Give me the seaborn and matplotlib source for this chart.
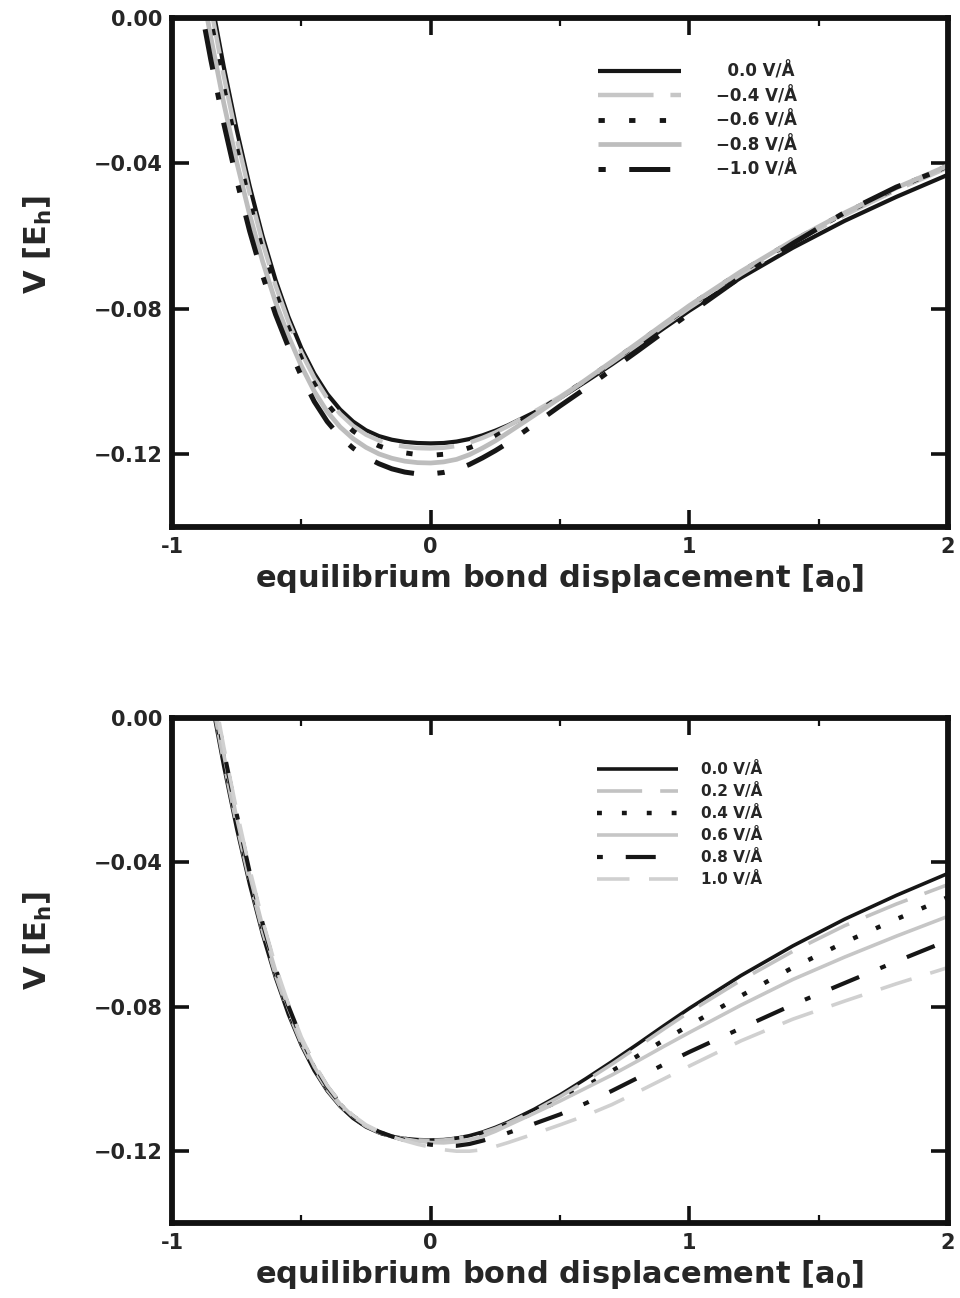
import numpy as np
import pandas as pd
import matplotlib
matplotlib.use("Agg")
import matplotlib.pyplot as plt
import seaborn as sns

# ---------------- data ----------------
x_disp = [-0.92, -0.88, -0.85, -0.80, -0.75, -0.70, -0.65, -0.60, -0.55, -0.50,
          -0.45, -0.40, -0.35, -0.30, -0.25, -0.20, -0.15, -0.10, -0.05, 0.00,
          0.05, 0.10, 0.15, 0.20, 0.25, 0.30, 0.40, 0.50, 0.60, 0.70,
          0.80, 0.90, 1.00, 1.20, 1.40, 1.60, 1.80, 2.00]

# 0.0 V/A (shared by both panels)
v_f00 = [0.0350, 0.0179, 0.0056, -0.0134, -0.0307, -0.0462, -0.0600, -0.0720, -0.0822, -0.0908,
         -0.0978, -0.1034, -0.1077, -0.1110, -0.1134, -0.1150, -0.1160, -0.1166, -0.1169, -0.1170,
         -0.1169, -0.1165, -0.1158, -0.1148, -0.1135, -0.1120, -0.1085, -0.1045, -0.1000, -0.0953,
         -0.0904, -0.0854, -0.0805, -0.0714, -0.0632, -0.0558, -0.0492, -0.0431]

# top panel: negative fields
v_fm04 = [0.0319, 0.0150, 0.0029, -0.0159, -0.0329, -0.0482, -0.0617, -0.0735, -0.0835, -0.0920,
          -0.0990, -0.1046, -0.1089, -0.1122, -0.1146, -0.1162, -0.1173, -0.1179, -0.1183, -0.1184,
          -0.1182, -0.1177, -0.1168, -0.1155, -0.1140, -0.1122, -0.1083, -0.1042, -0.0996, -0.0948,
          -0.0898, -0.0847, -0.0797, -0.0704, -0.0619, -0.0542, -0.0473, -0.0411]
v_fm06 = [0.0280, 0.0114, -0.0006, -0.0190, -0.0357, -0.0507, -0.0639, -0.0754, -0.0852, -0.0936,
          -0.1006, -0.1061, -0.1104, -0.1136, -0.1160, -0.1177, -0.1189, -0.1196, -0.1201, -0.1203,
          -0.1200, -0.1193, -0.1182, -0.1168, -0.1150, -0.1130, -0.1088, -0.1043, -0.0996, -0.0946,
          -0.0895, -0.0843, -0.0792, -0.0698, -0.0613, -0.0537, -0.0468, -0.0407]
v_fm08 = [0.0226, 0.0064, -0.0053, -0.0234, -0.0396, -0.0541, -0.0669, -0.0781, -0.0875, -0.0957,
          -0.1027, -0.1083, -0.1125, -0.1157, -0.1181, -0.1199, -0.1211, -0.1219, -0.1223, -0.1224,
          -0.1221, -0.1214, -0.1201, -0.1183, -0.1163, -0.1140, -0.1093, -0.1045, -0.0995, -0.0945,
          -0.0894, -0.0842, -0.0791, -0.0697, -0.0612, -0.0536, -0.0467, -0.0406]
v_fm10 = [0.0156, -0.0001, -0.0115, -0.0290, -0.0446, -0.0586, -0.0708, -0.0815, -0.0905, -0.0985,
          -0.1055, -0.1110, -0.1152, -0.1183, -0.1208, -0.1226, -0.1240, -0.1249, -0.1254, -0.1254,
          -0.1250, -0.1242, -0.1228, -0.1210, -0.1190, -0.1168, -0.1118, -0.1067, -0.1018, -0.0967,
          -0.0916, -0.0864, -0.0813, -0.0712, -0.0620, -0.0535, -0.0465, -0.0410]

# bottom panel: positive fields
v_fp02 = [0.0363, 0.0191, 0.0068, -0.0123, -0.0297, -0.0453, -0.0592, -0.0713, -0.0816, -0.0903,
          -0.0974, -0.1031, -0.1075, -0.1108, -0.1132, -0.1149, -0.1160, -0.1166, -0.1170, -0.1171,
          -0.1170, -0.1166, -0.1159, -0.1150, -0.1138, -0.1123, -0.1089, -0.1050, -0.1006, -0.0960,
          -0.0912, -0.0863, -0.0815, -0.0727, -0.0647, -0.0576, -0.0516, -0.0462]
v_fp04 = [0.0376, 0.0203, 0.0079, -0.0112, -0.0287, -0.0445, -0.0584, -0.0707, -0.0811, -0.0899,
          -0.0970, -0.1028, -0.1072, -0.1107, -0.1132, -0.1149, -0.1160, -0.1167, -0.1171, -0.1172,
          -0.1170, -0.1166, -0.1160, -0.1151, -0.1139, -0.1125, -0.1094, -0.1060, -0.1021, -0.0979,
          -0.0937, -0.0894, -0.0852, -0.0770, -0.0692, -0.0622, -0.0558, -0.0497]
v_fp06 = [0.0389, 0.0215, 0.0091, -0.0102, -0.0277, -0.0436, -0.0577, -0.0700, -0.0805, -0.0894,
          -0.0967, -0.1025, -0.1070, -0.1105, -0.1130, -0.1148, -0.1160, -0.1167, -0.1173, -0.1177,
          -0.1178, -0.1175, -0.1169, -0.1160, -0.1146, -0.1129, -0.1096, -0.1062, -0.1026, -0.0990,
          -0.0951, -0.0911, -0.0872, -0.0796, -0.0725, -0.0663, -0.0605, -0.0550]
v_fp08 = [0.0402, 0.0227, 0.0103, -0.0091, -0.0267, -0.0427, -0.0569, -0.0694, -0.0799, -0.0889,
          -0.0963, -0.1022, -0.1068, -0.1104, -0.1129, -0.1147, -0.1160, -0.1170, -0.1178, -0.1183,
          -0.1186, -0.1186, -0.1181, -0.1172, -0.1162, -0.1150, -0.1125, -0.1099, -0.1068, -0.1034,
          -0.0998, -0.0961, -0.0926, -0.0860, -0.0795, -0.0735, -0.0675, -0.0617]
v_fp10 = [0.0415, 0.0239, 0.0115, -0.0080, -0.0257, -0.0418, -0.0561, -0.0687, -0.0793, -0.0885,
          -0.0959, -0.1019, -0.1066, -0.1102, -0.1128, -0.1146, -0.1161, -0.1172, -0.1182, -0.1190,
          -0.1197, -0.1201, -0.1201, -0.1197, -0.1188, -0.1177, -0.1153, -0.1128, -0.1102, -0.1072,
          -0.1037, -0.1001, -0.0965, -0.0895, -0.0835, -0.0785, -0.0737, -0.0692]

top_labels = ["  0.0 V/\u00c5", "\u22120.4 V/\u00c5", "\u22120.6 V/\u00c5", "\u22120.8 V/\u00c5", "\u22121.0 V/\u00c5"]
bot_labels = ["0.0 V/\u00c5", "0.2 V/\u00c5", "0.4 V/\u00c5", "0.6 V/\u00c5", "0.8 V/\u00c5", "1.0 V/\u00c5"]

x_ticks = [-1, 0, 1, 2]
x_tick_labels = ["-1", "0", "1", "2"]
x_minor_ticks = [-0.5, 0.5, 1.5]
y_ticks = [0.0, -0.04, -0.08, -0.12]
y_tick_labels = ["0.00", "\u22120.04", "\u22120.08", "\u22120.12"]
x_label = "equilibrium bond displacement [a$_0$]"
y_label = "V [E$_h$]"

# ---------------- style ----------------
sns.set_theme(style="white")
plt.rcParams["font.family"] = ["DejaVu Sans"]
plt.rcParams["font.weight"] = "bold"
plt.rcParams["mathtext.fontset"] = "dejavusans"
plt.rcParams["mathtext.default"] = "bf"
plt.rcParams["axes.labelweight"] = "bold"

BLK = "#161616"
top_styles = [
    dict(color=BLK, lw=3.0, ls="-"),
    dict(color="#c6c6c6", lw=3.2, ls=(0, (12.5, 3.8))),
    dict(color=BLK, lw=3.5, ls=(0, (1.3, 5.0))),
    dict(color="#bdbdbd", lw=3.4, ls="-"),
    dict(color=BLK, lw=3.6, ls=(0, (1.45, 4.7, 8.2, 4.7))),
]
bot_styles = [
    dict(color=BLK, lw=2.6, ls="-"),
    dict(color="#c2c2c2", lw=2.6, ls=(0, (12.5, 5.0))),
    dict(color=BLK, lw=3.2, ls=(0, (1.1, 4.5))),
    dict(color="#c6c6c6", lw=2.6, ls="-"),
    dict(color=BLK, lw=3.0, ls=(0, (1.4, 5.5, 7.2, 5.5))),
    dict(color="#d0d0d0", lw=2.6, ls=(0, (9.0, 5.4))),
]

fig = plt.figure(figsize=(9.6, 12.98), dpi=100)
ax_top = fig.add_axes([0.1792, 0.5940, 0.8083, 0.3921])
ax_bot = fig.add_axes([0.1792, 0.0578, 0.8083, 0.3891])

top_series = [v_f00, v_fm04, v_fm06, v_fm08, v_fm10]
bot_series = [v_f00, v_fp02, v_fp04, v_fp06, v_fp08, v_fp10]


def draw(ax, series, labels, styles):
    for vals, lab, st in zip(series, labels, styles):
        df = pd.DataFrame({"x": x_disp, "V": vals})
        sns.lineplot(data=df, x="x", y="V", ax=ax, color=st["color"], lw=st["lw"],
                     linestyle=st["ls"], label=lab, sort=False, estimator=None,
                     solid_capstyle="butt", dash_capstyle="butt",
                     solid_joinstyle="round", dash_joinstyle="round")


draw(ax_top, top_series, top_labels, top_styles)
draw(ax_bot, bot_series, bot_labels, bot_styles)

for ax, ylc in ((ax_top, 0.554), (ax_bot, 0.560)):
    ax.set_xlim(-1, 2)
    ax.set_ylim(-0.14, 0.0)
    ax.set_xticks(x_ticks, labels=x_tick_labels)
    ax.set_xticks(x_minor_ticks, minor=True)
    ax.set_yticks(y_ticks, labels=y_tick_labels)
    ax.tick_params(which="both", direction="in", top=True, right=True,
                   bottom=True, left=True, color="#111111")
    ax.tick_params(which="major", length=12, width=2.6, labelsize=15, pad=7)
    ax.tick_params(which="minor", length=6, width=1.6)
    for sp in ax.spines.values():
        sp.set_linewidth(4.2)
        sp.set_color("#111111")
    ax.set_xlabel(x_label, fontsize=22, labelpad=4)
    ax.set_ylabel(y_label, fontsize=22)
    ax.yaxis.set_label_coords(-0.152, ylc)
    for t in ax.get_xticklabels() + ax.get_yticklabels():
        t.set_fontweight("bold")

leg = ax_top.legend(loc="upper left", bbox_to_anchor=(0.549, 0.913), frameon=False,
                    fontsize=12, handlelength=5.0, handletextpad=2.1, labelspacing=0.36,
                    borderpad=0, borderaxespad=0)
leg2 = ax_bot.legend(loc="upper left", bbox_to_anchor=(0.548, 0.915), frameon=False,
                     fontsize=11, handlelength=5.3, handletextpad=1.5, labelspacing=0.40,
                     borderpad=0, borderaxespad=0)
for lg in (leg, leg2):
    for t in lg.get_texts():
        t.set_fontweight("bold")

fig.savefig("out.png", dpi=100)
